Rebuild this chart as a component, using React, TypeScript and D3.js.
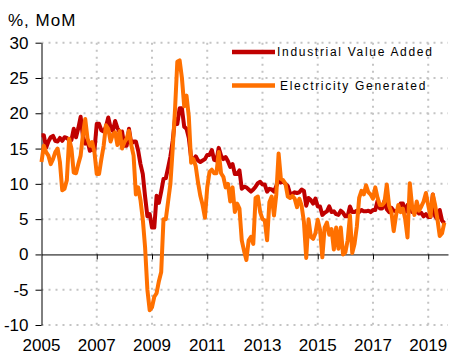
import React, { useEffect, useRef } from 'react';
import * as d3 from 'd3';

// monthly series, first point = Jan 2005
const startYear = 2005;
const xTickYears = [2005, 2007, 2009, 2011, 2013, 2015, 2017, 2019];
const yTicks = [-10, -5, 0, 5, 10, 15, 20, 25, 30];
const seriesNames = ['Industrial Value Added', 'Electricity Generated'];
const seriesColors = ['#C00000', '#FF7000'];

const industrialValueAdded = [
  16.9, 16.9, 15.1, 16.0, 16.6, 16.8, 16.1, 16.0, 16.5, 16.1, 16.6, 16.5,
  16.2, 16.2, 17.8, 16.6, 17.9, 19.5, 16.7, 15.7, 16.1, 14.7, 14.9, 14.7,
  18.5, 18.5, 17.6, 17.4, 18.1, 19.4, 18.0, 17.5, 18.9, 17.9, 17.3, 17.4,
  15.4, 15.4, 17.8, 15.7, 16.0, 16.0, 14.7, 12.8, 11.4, 8.2, 5.4, 5.7,
  3.8, 3.8, 8.3, 7.3, 8.9, 10.7, 10.8, 12.3, 13.9, 16.1, 19.2, 18.5,
  20.7, 20.7, 18.1, 17.8, 16.5, 13.7, 13.4, 13.9, 13.3, 13.1, 13.3, 13.5,
  14.1, 14.1, 14.8, 13.4, 13.3, 15.1, 14.0, 13.5, 13.8, 13.2, 12.4, 12.8,
  11.4, 11.4, 11.9, 9.3, 9.6, 9.5, 9.2, 8.9, 9.2, 9.6, 10.1, 10.3,
  9.9, 9.9, 8.9, 9.3, 9.2, 8.9, 9.7, 10.4, 10.2, 10.3, 10.0, 9.7,
  8.6, 8.6, 8.8, 8.7, 8.8, 9.2, 9.0, 6.9, 8.0, 7.7, 7.2, 7.9,
  6.8, 6.8, 5.6, 5.9, 6.1, 6.8, 6.0, 6.1, 5.7, 5.6, 6.2, 5.9,
  5.4, 5.4, 6.8, 6.0, 6.0, 6.2, 6.0, 6.3, 6.1, 6.1, 6.2, 6.0,
  6.3, 6.3, 7.6, 6.5, 6.5, 7.6, 6.4, 6.0, 6.6, 6.2, 6.1, 6.2,
  7.2, 7.2, 6.0, 7.0, 6.8, 6.0, 6.0, 6.1, 5.8, 5.9, 5.4, 5.7,
  5.3, 5.3, 8.5, 5.4, 5.0, 6.3, 4.8, 4.4,
];

const electricityGenerated = [
  13.1, 15.4, 14.5, 14.0, 12.8, 13.5, 14.5, 15.0, 13.1, 9.1, 9.3, 10.5,
  16.4, 15.0, 11.6, 11.5, 12.8, 14.0, 17.0, 19.2, 16.4, 15.4, 15.9, 14.5,
  11.4, 11.4, 13.5, 15.4, 18.3, 17.8, 16.0, 17.0, 17.3, 15.5, 17.5, 15.0,
  15.9, 16.4, 17.5, 15.5, 14.0, 8.5, 9.5, 7.7, 5.0, 1.0, -5.0, -7.9,
  -7.5, -6.0, -5.5, -3.8, -2.5, 5.0, 5.0, 7.5, 10.0, 15.0, 20.5, 27.3,
  27.5, 25.0, 21.0, 22.5, 19.5, 13.0, 13.5, 12.5, 10.2, 8.3, 7.0, 5.2,
  9.5, 11.7, 12.0, 11.5, 11.5, 14.5, 11.5, 11.0, 9.5, 10.0, 7.5, 9.5,
  6.0, 7.2, 6.5, 2.0, 0.5, -0.8, 2.0, 2.5, 1.5, 8.0, 8.2, 6.0,
  5.0, 4.8, 2.0, 7.4, 8.2, 5.5, 8.5, 14.3, 10.7, 10.5, 10.0, 8.2,
  8.0, 8.3, 7.9, 6.7, 7.9, 6.9, 4.6, -0.5, 5.0, 2.5, 2.2, 3.0,
  4.9, 3.5, -0.4, 3.8, 4.5, 2.8, 3.6, 0.7, 3.8, 0.8, 3.8, 0.0,
  0.3, 2.0, 5.5, 0.2, 1.5, 4.0, 8.0, 9.0, 8.5, 9.8, 8.8, 8.5,
  7.9, 9.5, 8.0, 7.0, 7.0, 7.4, 9.9, 6.9, 6.0, 3.3, 5.5, 7.0,
  6.0, 6.5, 5.0, 2.4, 10.1, 6.8, 5.6, 7.5, 6.2, 6.8, 7.5, 8.7,
  7.0, 5.4, 8.5, 7.0, 5.0, 2.6, 3.0, 4.5,
];

export default function App() {
  const ref = useRef<SVGSVGElement>(null);

  useEffect(() => {
    const svg = d3.select(ref.current);
    svg.selectAll('*').remove();

    const left = 41.5, right = 448, top = 42.7, bottom = 325;
    const font = '"Liberation Sans", Arial, sans-serif';

    const x = d3.scaleLinear().domain([2005, 2019.716]).range([left, right]);
    const y = d3.scaleLinear().domain([-10, 30]).range([bottom, top]);

    // dotted grid
    svg.append('g')
      .selectAll('line')
      .data(yTicks.filter(d => d !== 0))
      .enter().append('line')
      .attr('x1', left).attr('x2', right)
      .attr('y1', d => y(d)).attr('y2', d => y(d))
      .attr('stroke', '#c4c4c4').attr('stroke-width', 2)
      .attr('stroke-dasharray', '2,5');

    svg.append('g')
      .selectAll('line')
      .data(xTickYears.slice(1))
      .enter().append('line')
      .attr('x1', d => x(d)).attr('x2', d => x(d))
      .attr('y1', top).attr('y2', bottom)
      .attr('stroke', '#c4c4c4').attr('stroke-width', 2)
      .attr('stroke-dasharray', '2,5');

    // y axis
    const yAxis = d3.axisLeft(y).tickValues(yTicks).tickSize(6).tickSizeOuter(0).tickPadding(7);
    const gY = svg.append('g').attr('transform', `translate(${left},0)`).call(yAxis);
    gY.selectAll('text').attr('font-family', font).attr('font-size', 17).attr('fill', '#000')
      .text(d => String(d));
    gY.selectAll('line, path').attr('stroke', '#000');

    // zero line with year ticks
    const xAxis = d3.axisBottom(x).tickValues(xTickYears.slice(1)).tickSize(5).tickSizeOuter(0).tickFormat(() => '');
    const gX = svg.append('g').attr('transform', `translate(0,${y(0)})`).call(xAxis);
    gX.selectAll('line, path').attr('stroke', '#000');

    svg.append('g')
      .selectAll('text')
      .data(xTickYears)
      .enter().append('text')
      .attr('x', d => x(d)).attr('y', 351)
      .attr('text-anchor', 'middle')
      .attr('font-family', font).attr('font-size', 17).attr('fill', '#000')
      .text(d => d);

    svg.append('text')
      .attr('x', 8).attr('y', 26)
      .attr('font-family', font).attr('font-size', 17).attr('letter-spacing', 1)
      .attr('fill', '#000')
      .text('%, MoM');

    // lines
    const line = d3.line<number>()
      .x((d, i) => x(startYear + i / 12))
      .y(d => y(d));

    [industrialValueAdded, electricityGenerated].forEach((s, k) => {
      svg.append('path')
        .datum(s)
        .attr('d', line)
        .attr('fill', 'none')
        .attr('stroke', seriesColors[k])
        .attr('stroke-width', 4)
        .attr('stroke-linejoin', 'round');
    });

    // legend
    const legendY = [52, 85.5];
    const textX = [277, 280];
    seriesNames.forEach((name, k) => {
      svg.append('line')
        .attr('x1', 232).attr('x2', 275)
        .attr('y1', legendY[k]).attr('y2', legendY[k])
        .attr('stroke', seriesColors[k]).attr('stroke-width', 4.5);
      svg.append('text')
        .attr('x', textX[k]).attr('y', legendY[k])
        .attr('dy', '0.35em')
        .attr('font-family', font).attr('font-size', 12).attr('letter-spacing', 1.7)
        .attr('fill', '#000')
        .text(name);
    });
  }, []);

  return (
    <svg ref={ref} width={452} height={359}
      style={{ position: 'absolute', left: 0, top: 0, background: '#fff' }} />
  );
}
